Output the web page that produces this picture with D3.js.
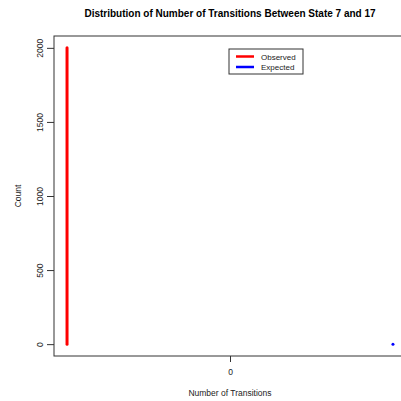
<!DOCTYPE html>
<html>
<head>
<meta charset="utf-8">
<script src="https://cdn.jsdelivr.net/npm/d3@7"></script>
<style>
  body { margin: 0; background: #fff; }
  svg { display: block; font-family: "Liberation Sans", Arial, sans-serif; }
</style>
</head>
<body>
<svg id="chart" width="401" height="401"></svg>
<script>
/* --- data --- */
var series_names = ["Observed", "Expected"];
var series_colors = ["red", "blue"];
var series_x = [-0.4, 0.4];       // offset positions around the single transition value 0
var series_counts = [2000, 0];
var y_ticks = [0, 500, 1000, 1500, 2000];
var x_ticks = [0];

/* --- layout --- */
var width = 401;
var height = 401;
var plot = {left: 54, right: 406, top: 36, bottom: 356};

var svg = d3.select("#chart");

var x = d3.scaleLinear().domain([-0.432, 0.432]).range([plot.left, plot.right]);
var y = d3.scaleLinear().domain([-80, 2080]).range([plot.bottom, plot.top]);

// title
svg.append("text")
    .attr("x", 230).attr("y", 17)
    .attr("text-anchor", "middle")
    .attr("font-size", "10px")
    .attr("font-weight", "bold")
    .text("Distribution of Number of Transitions Between State 7 and 17");

// box
svg.append("rect")
    .attr("x", plot.left).attr("y", plot.top)
    .attr("width", plot.right - plot.left).attr("height", plot.bottom - plot.top)
    .attr("fill", "none").attr("stroke", "#333").attr("stroke-width", 1);

// y axis
var yAxis = d3.axisLeft(y).tickValues(y_ticks).tickFormat(d3.format("d")).tickSize(7).tickPadding(4);
var gy = svg.append("g").attr("transform", "translate(" + plot.left + ",0)").call(yAxis);
gy.select(".domain").remove();
gy.selectAll("line").attr("stroke", "#333");
gy.selectAll("text")
    .attr("font-size", "8.5px")
    .attr("fill", "#222")
    .attr("font-family", "Liberation Sans, Arial, sans-serif")
    .attr("text-anchor", "middle")
    .attr("dy", null)
    .attr("x", null)
    .attr("transform", "translate(-11,0) rotate(-90)");

// x axis
var xAxis = d3.axisBottom(x).tickValues(x_ticks).tickFormat(d3.format("d")).tickSize(6).tickPadding(7);
var gx = svg.append("g").attr("transform", "translate(0," + plot.bottom + ")").call(xAxis);
gx.select(".domain").remove();
gx.selectAll("line").attr("stroke", "#333");
gx.selectAll("text")
    .attr("font-size", "8.5px")
    .attr("fill", "#222")
    .attr("font-family", "Liberation Sans, Arial, sans-serif");

// axis labels
svg.append("text")
    .attr("x", 230).attr("y", 396)
    .attr("text-anchor", "middle")
    .attr("font-size", "8.5px")
    .attr("fill", "#222")
    .text("Number of Transitions");

svg.append("text")
    .attr("transform", "translate(21,196) rotate(-90)")
    .attr("text-anchor", "middle")
    .attr("font-size", "8.5px")
    .attr("fill", "#222")
    .text("Count");

// spikes
svg.append("g")
    .selectAll("line")
    .data(series_counts)
    .join("line")
    .attr("x1", (d, i) => x(series_x[i]))
    .attr("x2", (d, i) => x(series_x[i]))
    .attr("y1", y(0))
    .attr("y2", d => y(d))
    .attr("stroke", (d, i) => series_colors[i])
    .attr("stroke-width", 3)
    .attr("stroke-linecap", "round");

// legend
var legend = svg.append("g").attr("transform", "translate(229,49)");
legend.append("rect")
    .attr("width", 74).attr("height", 25)
    .attr("fill", "#fff").attr("stroke", "#333").attr("stroke-width", 1);
var item = legend.selectAll("g.item")
    .data(series_names)
    .join("g")
    .attr("class", "item")
    .attr("transform", (d, i) => "translate(0," + (7.5 + i * 10.5) + ")");
item.append("line")
    .attr("x1", 7).attr("x2", 25)
    .attr("stroke", (d, i) => series_colors[i])
    .attr("stroke-width", 2.5);
item.append("text")
    .attr("x", 32).attr("y", 3)
    .attr("font-size", "8px")
    .attr("fill", "#222")
    .text(d => d);
</script>
</body>
</html>
